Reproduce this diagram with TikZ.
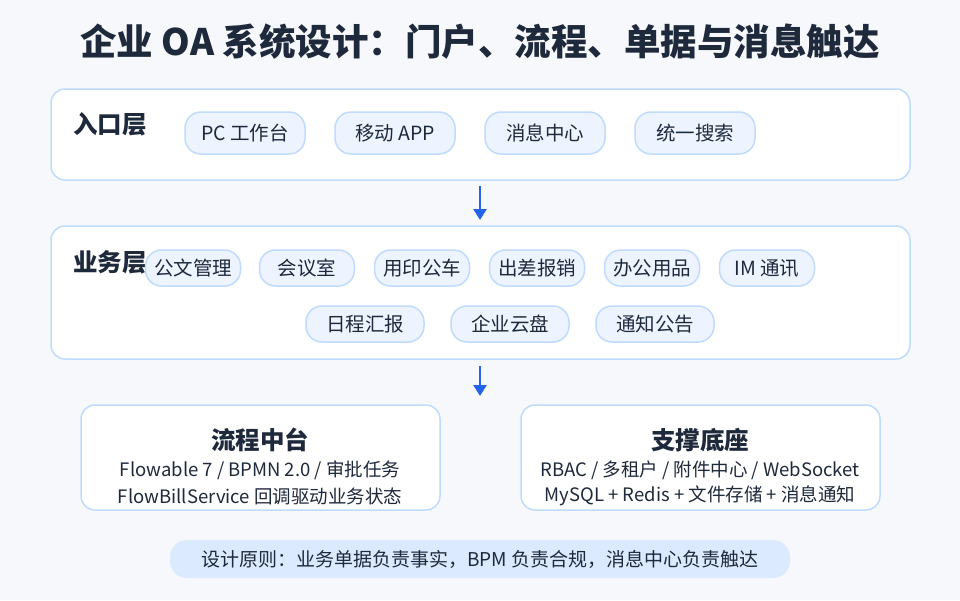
\documentclass[tikz,border=0pt]{standalone}
\usepackage{fontspec}
\setmainfont{Noto Sans CJK SC}
\usetikzlibrary{arrows.meta}
\definecolor{bg}{HTML}{F6F8FB}
\definecolor{bd}{HTML}{BFDBFE}
\definecolor{pill}{HTML}{EEF4FF}
\definecolor{txt}{HTML}{1E293B}
\definecolor{arr}{HTML}{2563EB}
\definecolor{note}{HTML}{DBEAFE}
\begin{document}
\begin{tikzpicture}[x=1pt,y=-1pt,
  panel/.style={draw=bd,line width=1.5pt,fill=white,rounded corners=14pt},
  pl/.style={draw=bd,line width=1.5pt,fill=pill,rounded corners=16pt,minimum height=#1,inner sep=0pt,text=txt,font=\fontsize{19.5}{22}\selectfont},
  lab/.style={text=txt,font=\bfseries\fontsize{24.5}{28}\selectfont},
  ln/.style={text=txt,font=\fontsize{18.5}{21}\selectfont},
  ar/.style={-{Triangle[length=11pt,width=13pt]},draw=arr,line width=2.5pt}]
\fill[bg] (0,0) rectangle (960,600);
\useasboundingbox (0,0) rectangle (960,600);
\node[text=txt,font=\bfseries\fontsize{36.5}{40}\selectfont] (title) at (480,42) {企业 OA 系统设计：门户、流程、单据与消息触达};
% entry
\draw[panel] (51,89) rectangle (910,180);
\node[lab] (l1) at (110,124) {入口层};
\node[pl=42pt,minimum width=120pt] (p1) at (245,133) {PC 工作台};
\node[pl=42pt,minimum width=120pt] (p2) at (395,133) {移动 APP};
\node[pl=42pt,minimum width=120pt] (p3) at (545,133) {消息中心};
\node[pl=42pt,minimum width=120pt] (p4) at (695,133) {统一搜索};
\coordinate (a1) at (480,186); \coordinate (a2) at (480,220);
\draw[ar] (a1) -- (a2);
% business
\draw[panel] (51,226) rectangle (910,359);
\node[lab] (l2) at (110,262) {业务层};
\foreach \t/\x [count=\i] in {公文管理/193,会议室/307,用印公车/422,出差报销/537,办公用品/652,IM 通讯/767}
  \node[pl=36pt,minimum width=95pt] (b\i) at (\x,268) {\t};
\foreach \t/\x [count=\i] in {日程汇报/365,企业云盘/510,通知公告/655}
  \node[pl=36pt,minimum width=118pt] (c\i) at (\x,324) {\t};
\coordinate (a3) at (480,366); \coordinate (a4) at (480,396);
\draw[ar] (a3) -- (a4);
% lower
\draw[panel] (81,405) rectangle (440,510);
\node[lab] (f0) at (260,440) {流程中台};
\node[ln] (f1) at (260,470) {Flowable 7 / BPMN 2.0 / 审批任务};
\node[ln] (f2) at (260,496) {FlowBillService 回调驱动业务状态};
\draw[panel] (521,405) rectangle (880,510);
\node[lab] (s0) at (700,440) {支撑底座};
\node[ln] (s1) at (700,470) {RBAC / 多租户 / 附件中心 / WebSocket};
\node[ln] (s2) at (700,496) {MySQL + Redis + 文件存储 + 消息通知};
\node[fill=note,rounded corners=17pt,minimum width=620pt,minimum height=38pt,text=txt,font=\fontsize{19}{22}\selectfont] (n) at (480,559) {设计原则：业务单据负责事实，BPM 负责合规，消息中心负责触达};
\end{tikzpicture}
\end{document}
